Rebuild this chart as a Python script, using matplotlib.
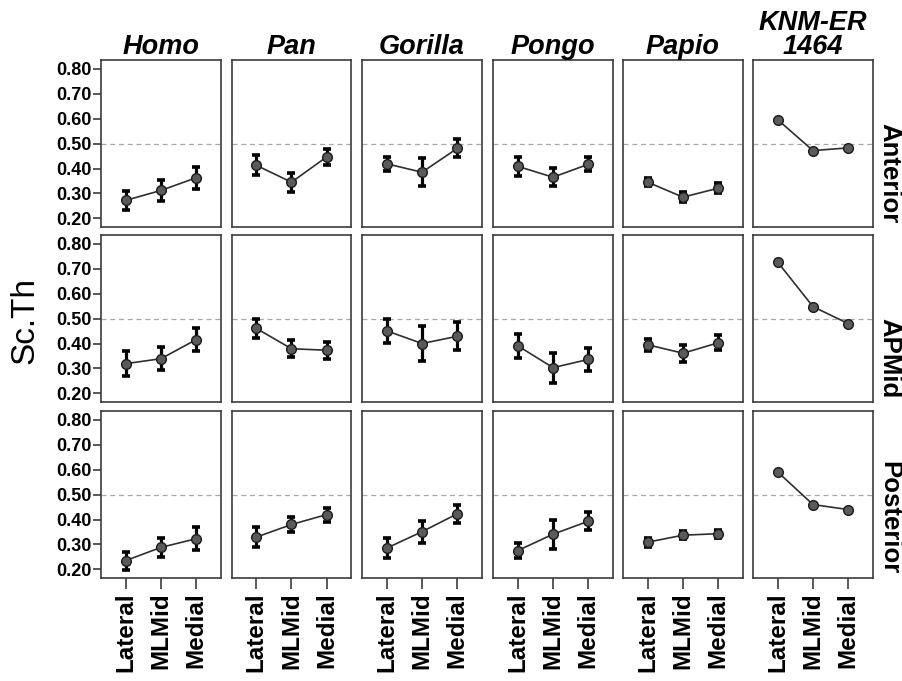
import matplotlib
matplotlib.use("Agg")
import matplotlib.pyplot as plt

plt.rcParams["font.family"] = ["Liberation Sans", "DejaVu Sans"]

# Categories along the medio-lateral axis
positions = ["Lateral", "MLMid", "Medial"]
taxa = ["Homo", "Pan", "Gorilla", "Pongo", "Papio", "KNM-ER\n1464"]
regions = ["Anterior", "APMid", "Posterior"]
y_ticks = [0.20, 0.30, 0.40, 0.50, 0.60, 0.70, 0.80]
reference_value = 0.50

# Mean Sc.Th per taxon (rows follow taxa order)
anterior_mean = [
    [0.272, 0.312, 0.363],
    [0.413, 0.345, 0.447],
    [0.419, 0.385, 0.481],
    [0.409, 0.365, 0.417],
    [0.345, 0.285, 0.321],
    [0.596, 0.472, 0.483],
]
anterior_err = [
    [0.039, 0.041, 0.045],
    [0.040, 0.038, 0.033],
    [0.029, 0.056, 0.036],
    [0.039, 0.037, 0.029],
    [0.016, 0.021, 0.020],
    None,
]
apmid_mean = [
    [0.319, 0.339, 0.416],
    [0.461, 0.379, 0.373],
    [0.451, 0.400, 0.429],
    [0.391, 0.303, 0.336],
    [0.395, 0.361, 0.403],
    [0.727, 0.548, 0.480],
]
apmid_err = [
    [0.049, 0.045, 0.048],
    [0.039, 0.035, 0.035],
    [0.047, 0.069, 0.056],
    [0.048, 0.060, 0.047],
    [0.025, 0.035, 0.030],
    None,
]
posterior_mean = [
    [0.235, 0.288, 0.323],
    [0.329, 0.380, 0.420],
    [0.285, 0.351, 0.423],
    [0.275, 0.341, 0.393],
    [0.309, 0.337, 0.343],
    [0.591, 0.460, 0.440],
]
posterior_err = [
    [0.036, 0.037, 0.045],
    [0.040, 0.030, 0.028],
    [0.040, 0.044, 0.037],
    [0.031, 0.059, 0.036],
    [0.018, 0.015, 0.016],
    None,
]

means = [anterior_mean, apmid_mean, posterior_mean]
errors = [anterior_err, apmid_err, posterior_err]

W, H = 902, 681
fig = plt.figure(figsize=(W / 100, H / 100), dpi=100)

col_left = [101, 231.5, 362, 493, 623, 753]
panel_w = 120
row_top = [60, 235, 411]
panel_h = 167

x = list(range(len(positions)))
edge = "#3c3c3c"

for r, region in enumerate(regions):
    for c, taxon in enumerate(taxa):
        ax = fig.add_axes([col_left[c] / W, 1 - (row_top[r] + panel_h) / H,
                           panel_w / W, panel_h / H])
        m = means[r][c]
        e = errors[r][c]
        ax.axhline(reference_value, color="#a8a8a8", lw=0.9,
                   ls=(0, (4, 3)), zorder=1)
        ax.plot(x, m, color="#2e2e2e", lw=1.2, zorder=2)
        if e is not None:
            ax.errorbar(x, m, yerr=e, fmt="none", ecolor="black",
                        elinewidth=2.3, capsize=3.1, capthick=2.6, zorder=3)
        ax.plot(x, m, "o", ms=7, mfc="#5a5a5a", mec="#1a1a1a", mew=1.0,
                zorder=4)
        ax.set_xlim(-0.7, 2.7)
        ax.set_ylim(0.165, 0.836)
        for s in ax.spines.values():
            s.set_color(edge)
            s.set_linewidth(1.2)
        ax.set_yticks(y_ticks)
        ax.set_xticks(x)
        ax.tick_params(length=6, width=1.2, color=edge, pad=1)
        if c == 0:
            ax.set_yticklabels([f"{v:.2f}" for v in y_ticks],
                               fontsize=13, fontweight="bold")
        else:
            ax.tick_params(axis="y", left=False, labelleft=False)
        if r == len(regions) - 1:
            ax.set_xticklabels(positions, rotation=90, fontsize=17.5,
                               fontweight="bold")
            ax.tick_params(axis="x", length=8, pad=2)
        else:
            ax.tick_params(axis="x", bottom=False, labelbottom=False)
        if r == 0:
            ax.set_title(taxon, fontsize=19.5, fontweight="bold",
                         fontstyle="italic", pad=2, linespacing=0.9)
        if c == len(taxa) - 1:
            ax.text(1.035, 0.025, region, transform=ax.transAxes,
                    rotation=270, ha="left", va="bottom",
                    fontsize=18.5, fontweight="bold")

fig.text(25 / W, 1 - 320 / H, "Sc.Th", rotation=90, ha="center",
         va="center", fontsize=24)

fig.savefig("out.png", dpi=100)
